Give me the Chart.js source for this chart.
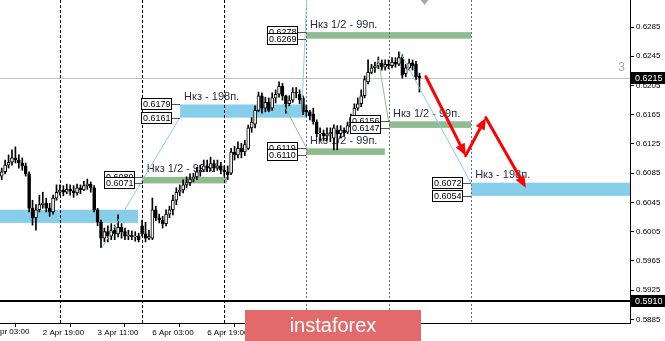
<!DOCTYPE html>
<html><head><meta charset="utf-8">
<script src="https://cdn.jsdelivr.net/npm/chart.js@4.4.1/dist/chart.umd.min.js"></script>
<style>html,body{margin:0;padding:0;background:#fff;overflow:hidden}canvas{display:block}</style>
</head><body>
<canvas id="c" width="665" height="341"></canvas>
<script>
// ---- data (H1 candles, bar 0 = 2 Apr 07:00) ----
const BAR_COUNT = 184;
const open = [0.6081,0.6087,0.6096,0.6100,0.6106,0.6103,0.6099,0.6095,0.6084,0.6037,
0.6024,0.6035,0.6042,0.6044,0.6037,0.6032,0.6051,0.6059,0.6062,0.6059,
0.6063,0.6061,0.6058,0.6065,0.6062,0.6068,0.6070,0.6065,0.6035,0.6018,
0.5996,0.6005,0.5999,0.6007,0.6002,0.6011,0.6005,0.5999,0.6000,0.5998,
0.5999,0.6013,0.6002,0.5996,0.5996,0.6035,0.6024,0.6021,0.6016,0.6029,
0.6035,0.6048,0.6059,0.6062,0.6069,0.6072,0.6077,0.6080,0.6087,0.6089,
0.6095,0.6092,0.6098,0.6092,0.6095,0.6089,0.6087,0.6085,0.6114,0.6110,
0.6119,0.6114,0.6119,0.6147,0.6152,0.6171,0.6191,0.6174,0.6182,0.6174,
0.6188,0.6193,0.6204,0.6191,0.6180,0.6185,0.6196,0.6193,0.6188,0.6171,
0.6169,0.6166,0.6155,0.6139,0.6140,0.6136,0.6139,0.6133,0.6144,0.6139,
0.6144,0.6141,0.6148,0.6161,0.6174,0.6180,0.6191,0.6210,0.6223,0.6229,
0.6232,0.6236,0.6230,0.6234,0.6232,0.6237,0.6234,0.6244,0.6221,0.6229,
0.6236,0.6234,0.6218];
const high = [0.6092,0.6103,0.6110,0.6117,0.6121,0.6110,0.6106,0.6099,0.6087,0.6048,
0.6042,0.6055,0.6059,0.6051,0.6044,0.6055,0.6069,0.6069,0.6068,0.6070,
0.6069,0.6068,0.6070,0.6069,0.6074,0.6077,0.6073,0.6068,0.6037,0.6021,
0.6010,0.6013,0.6016,0.6014,0.6028,0.6016,0.6010,0.6007,0.6006,0.6005,
0.6003,0.6021,0.6018,0.6007,0.6051,0.6040,0.6029,0.6026,0.6035,0.6040,
0.6055,0.6065,0.6069,0.6076,0.6080,0.6084,0.6085,0.6093,0.6096,0.6103,
0.6103,0.6107,0.6103,0.6103,0.6100,0.6095,0.6095,0.6119,0.6122,0.6128,
0.6126,0.6130,0.6151,0.6161,0.6177,0.6196,0.6195,0.6189,0.6188,0.6195,
0.6199,0.6210,0.6208,0.6192,0.6191,0.6202,0.6202,0.6199,0.6191,0.6178,
0.6171,0.6174,0.6158,0.6147,0.6144,0.6147,0.6147,0.6151,0.6150,0.6150,
0.6147,0.6155,0.6166,0.6180,0.6188,0.6199,0.6218,0.6240,0.6234,0.6237,
0.6244,0.6240,0.6240,0.6240,0.6243,0.6243,0.6251,0.6247,0.6234,0.6241,
0.6240,0.6238,0.6222];
const low = [0.6076,0.6084,0.6092,0.6096,0.6099,0.6092,0.6089,0.6081,0.6032,0.6014,
0.6007,0.6032,0.6037,0.6032,0.6026,0.6029,0.6048,0.6055,0.6054,0.6057,
0.6055,0.6052,0.6055,0.6057,0.6061,0.6063,0.6059,0.6032,0.6013,0.5983,
0.5991,0.5991,0.5994,0.5994,0.5998,0.5996,0.5994,0.5994,0.5994,0.5992,
0.5991,0.5999,0.5991,0.5994,0.5994,0.6020,0.6017,0.6010,0.6013,0.6024,
0.6028,0.6042,0.6054,0.6058,0.6065,0.6068,0.6073,0.6076,0.6081,0.6087,
0.6087,0.6088,0.6087,0.6089,0.6084,0.6081,0.6076,0.6083,0.6103,0.6106,
0.6106,0.6109,0.6117,0.6141,0.6147,0.6169,0.6167,0.6169,0.6169,0.6171,
0.6181,0.6189,0.6185,0.6167,0.6177,0.6182,0.6188,0.6180,0.6165,0.6163,
0.6158,0.6152,0.6135,0.6130,0.6129,0.6130,0.6128,0.6117,0.6117,0.6133,
0.6136,0.6139,0.6147,0.6158,0.6171,0.6176,0.6188,0.6207,0.6221,0.6223,
0.6228,0.6226,0.6226,0.6228,0.6229,0.6230,0.6232,0.6215,0.6217,0.6226,
0.6226,0.6213,0.6196];
const close = [0.6087,0.6096,0.6100,0.6106,0.6103,0.6099,0.6095,0.6084,0.6037,0.6024,
0.6035,0.6042,0.6044,0.6037,0.6032,0.6051,0.6059,0.6062,0.6059,0.6063,
0.6061,0.6058,0.6065,0.6062,0.6068,0.6070,0.6065,0.6035,0.6018,0.5996,
0.6005,0.5999,0.6007,0.6002,0.6011,0.6005,0.5999,0.6000,0.5998,0.5999,
0.5994,0.6002,0.5996,0.5999,0.6035,0.6024,0.6021,0.6016,0.6029,0.6035,
0.6048,0.6059,0.6062,0.6069,0.6072,0.6077,0.6080,0.6087,0.6089,0.6095,
0.6092,0.6098,0.6092,0.6095,0.6089,0.6087,0.6083,0.6114,0.6110,0.6119,
0.6114,0.6124,0.6147,0.6155,0.6171,0.6191,0.6174,0.6182,0.6171,0.6188,
0.6193,0.6204,0.6191,0.6180,0.6185,0.6196,0.6195,0.6185,0.6169,0.6169,
0.6163,0.6155,0.6139,0.6140,0.6136,0.6139,0.6141,0.6147,0.6139,0.6144,
0.6140,0.6150,0.6161,0.6174,0.6180,0.6191,0.6213,0.6223,0.6229,0.6232,
0.6236,0.6230,0.6234,0.6232,0.6237,0.6234,0.6243,0.6219,0.6229,0.6236,
0.6232,0.6217,0.6215];

const yTicks = [0.6285,0.6245,0.6205,0.6165,0.6125,0.6085,0.6045,0.6005,0.5965,0.5925,0.5885];
const xTickBars = [12,28,44,60,76,92,108];
const xTickText = ["2 Apr 19:00","3 Apr 11:00","6 Apr 03:00","6 Apr 19:00","7 Apr 11:00","8 Apr 03:00","8 Apr 19:00"];
const xOffLeftBar = -4, xOffLeftText = "2 Apr 03:00";
const separatorBars = [17,41,65,89,113,137];

const bidPrice = 0.6215;
const levelPrice = 0.5910;

const zoneStart = [-0.5, 41.2, 52.1, 88.9, 88.9, 113.1, 137.1];
const zoneEnd   = [39.8, 65.8, 88.9, 137.1, 111.9, 137.1, 183.5];
const zoneTop   = [0.6035, 0.6080, 0.6179, 0.6278, 0.6119, 0.6156, 0.6072];
const zoneBottom= [0.6017, 0.6071, 0.6161, 0.6269, 0.6110, 0.6147, 0.6054];
const zoneKind  = ['b','g','b','g','g','g','b'];
const zoneText  = ['', 'Нкз 1/2 - 99п.', 'Нкз - 198п.', 'Нкз 1/2 - 99п.', 'Нкз 1/2 - 99п.', 'Нкз 1/2 - 99п.', 'Нкз - 198п.'];
const zoneTags  = [false, true, true, true, true, true, true];

const trendLines = [
  {kind:'b', pts:[[29.3,0.5983],[52.0,0.6161]]},
  {kind:'b', pts:[[87.6,0.6165],[89.1,0.6325]]},
  {kind:'g', pts:[[82.2,0.6180],[89.3,0.6117]]},
  {kind:'g', pts:[[110.0,0.6240],[113.0,0.6156]]},
  {kind:'b', pts:[[116.3,0.6251],[137.0,0.6072]]}
];
const forecastPath = [[123.9,0.6217],[135.5,0.6109],[141.4,0.6161],[153.1,0.6065]];

const categories = Array.from({length: BAR_COUNT}, (_, i) => String(i));

// ---- drawing ----
const BLUE = '#87CEEB', GREEN = '#8FBC8F';
const FONT = '"Liberation Sans", Arial, sans-serif';

function clipArea(ctx, a){ ctx.beginPath(); ctx.rect(a.left, a.top, a.right-a.left, a.bottom-a.top); ctx.clip(); }

function arrow(ctx, x1, y1, x2, y2){
  const ang = Math.atan2(y2-y1, x2-x1), L = 12, W = 5;
  const bx = x2 - L*Math.cos(ang), by = y2 - L*Math.sin(ang);
  ctx.beginPath(); ctx.moveTo(x1,y1); ctx.lineTo(bx,by); ctx.stroke();
  ctx.beginPath(); ctx.moveTo(x2,y2);
  ctx.lineTo(bx + W*Math.sin(ang), by - W*Math.cos(ang));
  ctx.lineTo(bx - W*Math.sin(ang), by + W*Math.cos(ang));
  ctx.closePath(); ctx.fill();
}

const overlay = {
  id: 'overlay',
  beforeDatasetsDraw(chart){
    const {ctx, chartArea:a, scales:{x, y}} = chart;
    ctx.save(); clipArea(ctx, a);
    // zones
    zoneStart.forEach((s, k) => {
      const x1 = x.getPixelForValue(s), x2 = x.getPixelForValue(zoneEnd[k]);
      const y1 = y.getPixelForValue(zoneTop[k]), y2 = y.getPixelForValue(zoneBottom[k]);
      ctx.fillStyle = zoneKind[k] === 'b' ? BLUE : GREEN;
      ctx.fillRect(x1, y1, x2-x1, y2-y1);
    });
    // separators
    separatorBars.forEach((b, k) => {
      const px = Math.round(x.getPixelForValue(b)) + 0.5;
      ctx.strokeStyle = k < 3 ? '#000' : '#707070';
      ctx.setLineDash(k < 3 ? [3,2] : [2,2]);
      ctx.lineWidth = 1;
      ctx.beginPath(); ctx.moveTo(px, a.top); ctx.lineTo(px, a.bottom); ctx.stroke();
    });
    ctx.setLineDash([]);
    // bid line
    let py = Math.round(y.getPixelForValue(bidPrice)) + 0.5;
    ctx.strokeStyle = '#c0c0c0'; ctx.lineWidth = 1;
    ctx.beginPath(); ctx.moveTo(a.left, py); ctx.lineTo(a.right, py); ctx.stroke();
    // level line
    py = Math.round(y.getPixelForValue(levelPrice));
    ctx.strokeStyle = '#000'; ctx.lineWidth = 2;
    ctx.beginPath(); ctx.moveTo(a.left, py); ctx.lineTo(a.right, py); ctx.stroke();
    // zone texts
    ctx.font = '11px ' + FONT; ctx.fillStyle = '#2a2a44';
    ctx.textAlign = 'left'; ctx.textBaseline = 'bottom';
    zoneText.forEach((t, k) => {
      if (!t) return;
      ctx.fillText(t, x.getPixelForValue(zoneStart[k]) + 4, y.getPixelForValue(zoneTop[k]) - 2);
    });
    ctx.restore();
  },
  afterDatasetsDraw(chart){
    const {ctx, chartArea:a, scales:{x, y}} = chart;
    ctx.save(); clipArea(ctx, a);
    // trend lines
    ctx.lineWidth = 1;
    trendLines.forEach(t => {
      ctx.strokeStyle = t.kind === 'b' ? BLUE : GREEN;
      ctx.beginPath();
      t.pts.forEach((p, i) => { const px = x.getPixelForValue(p[0]), py = y.getPixelForValue(p[1]); i ? ctx.lineTo(px,py) : ctx.moveTo(px,py); });
      ctx.stroke();
    });
    // price tags of zones
    ctx.font = '9px ' + FONT; ctx.textAlign = 'left'; ctx.textBaseline = 'middle';
    zoneStart.forEach((s, k) => {
      if (!zoneTags[k]) return;
      const zx = Math.round(x.getPixelForValue(s));
      const right = zx - 8, left = right - 31;
      [zoneTop[k], zoneBottom[k]].forEach(v => {
        const py = Math.round(y.getPixelForValue(v));
        ctx.strokeStyle = '#555'; ctx.lineWidth = 1;
        ctx.beginPath(); ctx.moveTo(right, py + 0.5); ctx.lineTo(zx, py + 0.5); ctx.stroke();
        ctx.fillStyle = '#fff'; ctx.fillRect(left, py - 6, 31, 12);
        ctx.strokeStyle = '#000'; ctx.strokeRect(left + 0.5, py - 5.5, 30, 11);
        ctx.fillStyle = '#000'; ctx.fillText(v.toFixed(4), left + 2, py + 0.5);
      });
    });
    // forecast arrows
    ctx.strokeStyle = '#ff0000'; ctx.fillStyle = '#ff0000'; ctx.lineWidth = 3; ctx.lineCap = 'round';
    for (let i = 0; i < forecastPath.length - 1; i++) {
      const p = forecastPath[i], q = forecastPath[i+1];
      arrow(ctx, x.getPixelForValue(p[0]), y.getPixelForValue(p[1]), x.getPixelForValue(q[0]), y.getPixelForValue(q[1]));
    }
    // misc marks
    ctx.fillStyle = '#a8a8a8'; ctx.font = '12px ' + FONT; ctx.textAlign = 'right'; ctx.textBaseline = 'middle';
    ctx.fillText('3', a.right - 5, y.getPixelForValue(bidPrice) - 10);
    const sx = x.getPixelForValue(123.5);
    ctx.beginPath(); ctx.moveTo(sx-4, a.top); ctx.lineTo(sx+4, a.top); ctx.lineTo(sx, a.top+5); ctx.closePath(); ctx.fill();
    ctx.restore();
  },
  afterDraw(chart){
    const {ctx, chartArea:a, scales:{x, y}} = chart;
    ctx.save();
    // off-left time label
    ctx.beginPath(); ctx.rect(0, a.bottom, a.right, chart.height - a.bottom); ctx.clip();
    ctx.font = '8px ' + FONT; ctx.fillStyle = '#000'; ctx.textAlign = 'left'; ctx.textBaseline = 'top';
    ctx.fillText(xOffLeftText, x.getPixelForValue(xOffLeftBar), a.bottom + 5);
    ctx.restore();
    ctx.save();
    // axis price tags
    ctx.font = '9px ' + FONT; ctx.textAlign = 'left'; ctx.textBaseline = 'middle';
    [bidPrice, levelPrice].forEach(v => {
      const py = Math.round(y.getPixelForValue(v));
      ctx.fillStyle = '#000'; ctx.fillRect(a.right + 1, py - 6, chart.width - a.right - 1, 12);
      ctx.fillStyle = '#fff'; ctx.fillText(v.toFixed(4), a.right + 5, py + 0.5);
    });
    // watermark
    ctx.fillStyle = '#e26a6a'; ctx.fillRect(245, 310, 176, 31);
    ctx.fillStyle = '#fff'; ctx.font = '20px ' + FONT; ctx.textAlign = 'center'; ctx.textBaseline = 'middle';
    ctx.fillText('instaforex', 333, 326);
    ctx.restore();
  }
};

Chart.defaults.font.family = FONT;
new Chart(document.getElementById('c'), {
  type: 'bar',
  data: {
    labels: categories,
    datasets: [
      { data: low.map((l, i) => [l, high[i]]), backgroundColor: '#000', barThickness: 1, grouped: false, order: 2 },
      { data: open.map((o, i) => [o, close[i]]),
        backgroundColor: ctx => close[ctx.dataIndex] >= open[ctx.dataIndex] ? '#fff' : '#000',
        borderColor: '#000', borderWidth: 1, borderSkipped: false, barThickness: 3, grouped: false, order: 1 }
    ]
  },
  options: {
    responsive: false, animation: false, devicePixelRatio: 1,
    layout: { padding: 0 },
    plugins: { legend: { display: false }, tooltip: { enabled: false } },
    scales: {
      x: {
        grid: { display: true, drawOnChartArea: false, tickLength: 4, color: '#000' },
        border: { display: true, color: '#000' },
        ticks: { autoSkip: false, maxRotation: 0, minRotation: 0, align: 'start', padding: 1, color: '#000',
          font: { size: 8 },
          callback: (v, i) => { const k = xTickBars.indexOf(i); return k >= 0 ? xTickText[k] : null; } },
        afterFit: s => { s.height = 18; s.paddingLeft = 0; s.paddingRight = 0; }
      },
      y: {
        position: 'right', min: 0.588007, max: 0.632194,
        grid: { display: true, drawOnChartArea: false, tickLength: 4, color: '#000' },
        border: { display: true, color: '#000' },
        ticks: { padding: 2, color: '#000', font: { size: 8 }, callback: v => Number(v).toFixed(4) },
        afterBuildTicks: s => { s.ticks = yTicks.map(v => ({ value: v })); },
        afterFit: s => { s.width = 35; s.paddingTop = 0; s.paddingBottom = 0; }
      }
    }
  },
  plugins: [overlay]
});
</script>
</body></html>
